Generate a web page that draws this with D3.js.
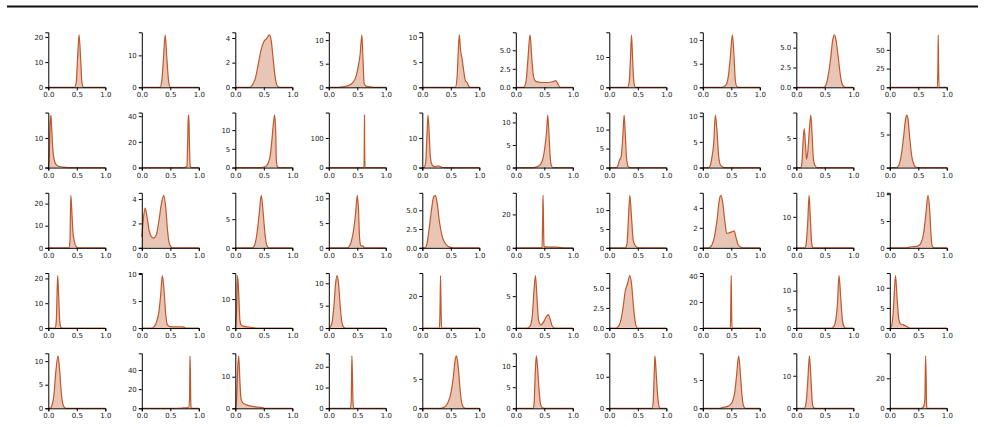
<!DOCTYPE html>
<html>
<head>
<meta charset="utf-8">
<script src="https://cdn.jsdelivr.net/npm/d3@7"></script>
<style>
  body { margin: 0; background: #fff; }
  svg { display: block; font-family: 'DejaVu Sans', sans-serif; }
</style>
</head>
<body>
<div id="viz"></div>
<script>
// x tick labels shared by every panel
const xTickLabels = ['0.0', '0.5', '1.0'];

// density curves, one list of [x, density] per panel (row by row)
const row1 = [
  [[0,0],[0.46,0],[0.49,2],[0.51,10],[0.54,20.8],[0.57,10],[0.59,2],[0.62,0],[1,0]],
  [[0,0],[0.32,0],[0.35,2],[0.38,9],[0.41,16.4],[0.44,9],[0.47,2],[0.5,0],[1,0]],
  [[0,0],[0.25,0],[0.3,0.2],[0.35,0.7],[0.4,1.8],[0.45,3.0],[0.5,3.7],[0.55,3.95],[0.6,4.25],[0.63,3.8],[0.66,2.5],[0.7,0.8],[0.74,0.1],[0.78,0],[1,0]],
  [[0,0],[0.15,0],[0.25,0.1],[0.35,0.4],[0.42,1.0],[0.47,2.0],[0.51,4],[0.55,7],[0.58,11.1],[0.6,6],[0.62,0.8],[0.66,0.2],[0.75,0.05],[0.8,0],[1,0]],
  [[0,0],[0.58,0],[0.61,2],[0.63,7],[0.65,10.4],[0.67,7.5],[0.7,5.5],[0.73,3],[0.76,1.2],[0.79,0.9],[0.82,0.1],[0.85,0],[1,0]],
  [[0,0],[0.14,0],[0.18,0.8],[0.21,3.5],[0.25,7.08],[0.28,4],[0.31,1.5],[0.35,0.8],[0.45,0.65],[0.55,0.65],[0.65,0.75],[0.7,0.9],[0.73,0.6],[0.77,0.05],[0.8,0],[1,0]],
  [[0,0],[0.32,0],[0.35,2],[0.37,9],[0.39,17.3],[0.41,9],[0.43,2],[0.46,0],[1,0]],
  [[0,0],[0.33,0],[0.38,0.2],[0.42,0.8],[0.45,2.5],[0.48,6],[0.52,11.1],[0.55,6],[0.57,1.5],[0.6,0.1],[0.63,0],[1,0]],
  [[0,0],[0.48,0],[0.52,0.3],[0.56,1.5],[0.6,3.5],[0.64,6.0],[0.67,6.6],[0.7,5.8],[0.74,3.5],[0.78,1.2],[0.82,0.2],[0.86,0],[1,0]],
  [[0,0],[0.835,0],[0.845,35],[0.85,70],[0.855,35],[0.865,0],[1,0]]
];
const row2 = [
  [[0,0],[0.015,3],[0.03,14],[0.045,17.7],[0.06,13],[0.08,6],[0.1,3],[0.13,1.2],[0.17,0.5],[0.25,0.15],[0.35,0],[1,0]],
  [[0,0],[0.75,0],[0.79,1],[0.805,20],[0.815,40.8],[0.825,40.8],[0.835,20],[0.85,1],[0.87,0],[1,0]],
  [[0,0],[0.45,0],[0.52,0.2],[0.57,1],[0.61,3],[0.64,7],[0.67,12],[0.69,14],[0.71,9],[0.72,2],[0.74,0.2],[0.77,0],[1,0]],
  [[0,0],[0.618,0],[0.623,90],[0.626,177],[0.629,90],[0.634,0],[1,0]],
  [[0,0],[0.03,0],[0.06,2],[0.08,10],[0.1,17.7],[0.12,12],[0.14,4],[0.17,1],[0.22,0.3],[0.28,0.6],[0.33,0.2],[0.4,0],[1,0]],
  [[0,0],[0.3,0],[0.38,0.2],[0.44,0.8],[0.48,2.2],[0.51,4.5],[0.54,8],[0.56,11.6],[0.58,8],[0.6,3],[0.62,0.6],[0.65,0],[1,0]],
  [[0,0],[0.12,0],[0.15,0.5],[0.18,2],[0.21,3],[0.24,9],[0.26,13.8],[0.28,9],[0.3,3],[0.33,0.3],[0.36,0],[1,0]],
  [[0,0],[0.1,0],[0.13,0.4],[0.16,2],[0.19,4.5],[0.22,10.2],[0.25,7],[0.28,2],[0.31,0.5],[0.36,0.05],[0.4,0],[1,0]],
  [[0,0],[0.08,0],[0.1,1],[0.12,4.5],[0.14,6.6],[0.16,4],[0.18,1.4],[0.2,2.5],[0.23,6.5],[0.255,8.85],[0.28,5],[0.3,1.5],[0.33,0.3],[0.37,0],[1,0]],
  [[0,0],[0.12,0],[0.16,0.4],[0.2,1.8],[0.24,4.5],[0.28,7.5],[0.3,7.93],[0.32,7.3],[0.35,4.5],[0.38,2],[0.42,0.5],[0.46,0.05],[0.5,0],[1,0]]
];
const row3 = [
  [[0,0],[0.36,0],[0.38,3],[0.395,23.7],[0.41,18],[0.43,8],[0.46,2.5],[0.49,0.5],[0.52,0],[1,0]],
  [[0,0.9],[0.03,2.5],[0.06,3.25],[0.09,2.6],[0.13,1.4],[0.17,0.9],[0.21,0.8],[0.25,1.0],[0.3,2.2],[0.35,3.8],[0.385,4.3],[0.42,3.3],[0.45,1.5],[0.48,0.4],[0.52,0.05],[0.55,0],[1,0]],
  [[0,0],[0.3,0],[0.34,0.5],[0.38,2.5],[0.42,6],[0.455,9.15],[0.49,6],[0.52,2.5],[0.55,0.5],[0.59,0],[1,0]],
  [[0,0],[0.33,0],[0.37,0.5],[0.41,2],[0.44,4],[0.47,7],[0.5,10.6],[0.52,8],[0.54,2],[0.56,0.5],[0.6,0.3],[0.63,0],[1,0]],
  [[0,0],[0.05,0],[0.08,0.5],[0.12,2.5],[0.16,5],[0.2,6.8],[0.23,6.97],[0.26,6],[0.3,3.5],[0.35,1.5],[0.4,0.6],[0.45,0.2],[0.5,0.05],[0.55,0],[1,0]],
  [[0,0],[0.46,0],[0.47,15],[0.478,31.4],[0.486,15],[0.495,1],[0.52,0.5],[0.7,0.4],[0.8,0.1],[0.85,0],[1,0]],
  [[0,0],[0.28,0],[0.31,1],[0.33,6],[0.36,13.9],[0.39,8],[0.42,2],[0.46,0.5],[0.5,0.05],[0.53,0],[1,0]],
  [[0,0],[0.1,0],[0.15,0.2],[0.2,1],[0.25,2.8],[0.29,4.8],[0.32,5.25],[0.35,4.5],[0.39,2.5],[0.42,1.45],[0.46,1.5],[0.51,1.6],[0.55,1.7],[0.58,1.1],[0.62,0.3],[0.67,0.05],[0.7,0],[1,0]],
  [[0,0],[0.15,0],[0.17,1],[0.2,8],[0.225,16.9],[0.25,8],[0.27,1.5],[0.29,0.1],[0.31,0],[1,0]],
  [[0,0],[0.3,0],[0.35,0.15],[0.45,0.25],[0.5,0.4],[0.55,1],[0.59,2.5],[0.63,6],[0.67,9.77],[0.7,7],[0.72,3],[0.74,0.5],[0.77,0],[1,0]]
];
const row4 = [
  [[0,0],[0.12,0],[0.14,3],[0.155,15],[0.165,21.1],[0.18,14],[0.2,3],[0.22,0.3],[0.25,0],[1,0]],
  [[0,0],[0.18,0],[0.22,0.3],[0.26,1.2],[0.3,3],[0.33,6],[0.36,9.7],[0.39,7],[0.42,2.5],[0.45,0.6],[0.5,0.25],[0.6,0.2],[0.72,0.2],[0.76,0.05],[0.8,0],[1,0]],
  [[0,0],[0.02,5],[0.04,18.1],[0.06,12],[0.08,3],[0.1,1.2],[0.15,0.6],[0.25,0.3],[0.33,0.1],[0.4,0],[1,0]],
  [[0,0],[0.03,0.3],[0.06,1.5],[0.09,5],[0.12,10],[0.145,11.7],[0.17,10],[0.2,5],[0.23,1.2],[0.26,0.2],[0.3,0],[1,0]],
  [[0,0],[0.3,0],[0.31,10],[0.32,32.7],[0.33,10],[0.34,0],[1,0]],
  [[0,0],[0.2,0],[0.25,0.3],[0.29,2],[0.32,6],[0.345,8.2],[0.37,5],[0.4,1.2],[0.44,0.5],[0.49,1.0],[0.53,1.7],[0.57,2.1],[0.6,1.5],[0.63,0.5],[0.67,0.05],[0.7,0],[1,0]],
  [[0,0],[0.12,0],[0.17,0.3],[0.21,1.2],[0.25,3],[0.28,4.6],[0.32,5.5],[0.36,6.5],[0.39,5.5],[0.42,3],[0.45,1],[0.48,0.1],[0.5,0],[1,0]],
  [[0,0],[0.485,0],[0.492,20],[0.498,40.3],[0.504,20],[0.512,0],[1,0]],
  [[0,0],[0.62,0],[0.66,0.5],[0.69,2],[0.72,6],[0.75,14],[0.78,8],[0.81,2],[0.84,0.3],[0.87,0],[1,0]],
  [[0,0],[0.03,0.5],[0.06,4],[0.1,13],[0.13,7],[0.16,2],[0.19,1],[0.24,0.8],[0.28,0.5],[0.33,0.15],[0.38,0],[1,0]]
];
const row5 = [
  [[0,0],[0.03,0],[0.06,0.5],[0.1,3],[0.13,7.5],[0.17,11.1],[0.2,8],[0.23,3],[0.26,0.7],[0.3,0.05],[0.33,0],[1,0]],
  [[0,0],[0.5,0],[0.7,0.3],[0.82,0.8],[0.838,10],[0.845,54.7],[0.852,40],[0.86,5],[0.868,0],[1,0]],
  [[0,0],[0.02,2],[0.04,12],[0.06,16.6],[0.08,9],[0.1,3],[0.13,1.8],[0.2,1.1],[0.3,0.6],[0.4,0.35],[0.48,0.2],[0.52,0],[1,0]],
  [[0,0],[0.38,0],[0.395,5],[0.405,25.2],[0.415,15],[0.425,3],[0.44,0],[1,0]],
  [[0,0],[0.32,0],[0.4,0.3],[0.45,1],[0.5,2.5],[0.54,5],[0.58,8.4],[0.6,8.9],[0.63,7],[0.66,3.5],[0.69,1],[0.72,0.2],[0.76,0],[1,0]],
  [[0,0],[0.3,0],[0.32,1],[0.34,8],[0.36,12.4],[0.38,10],[0.4,6],[0.42,2.5],[0.44,0.7],[0.47,0.1],[0.5,0],[1,0]],
  [[0,0],[0.75,0],[0.77,2],[0.79,12],[0.8,16.6],[0.82,12],[0.84,6],[0.86,2],[0.88,0.2],[0.9,0],[1,0]],
  [[0,0],[0.3,0],[0.35,0.15],[0.42,0.3],[0.48,0.6],[0.52,1.2],[0.56,2.8],[0.59,5.5],[0.63,9.26],[0.66,6],[0.69,2],[0.72,0.3],[0.75,0],[1,0]],
  [[0,0],[0.14,0],[0.17,1.5],[0.2,8],[0.23,16.1],[0.26,8],[0.28,2],[0.3,0.3],[0.33,0],[1,0]],
  [[0,0],[0.55,0],[0.58,0.5],[0.6,2],[0.615,6],[0.628,34.9],[0.638,20],[0.645,2],[0.655,0],[1,0]]
];

// y tick labels per panel, same order
const yTicks1 = [['0','10','20'],['0','10'],['0','2','4'],['0','5','10'],['0','5','10'],['0.0','2.5','5.0'],['0','10'],['0','5','10'],['0.0','2.5','5.0'],['0','25','50']];
const yTicks2 = [['0','10'],['0','20','40'],['0','5','10'],['0','100'],['0','10'],['0','5','10'],['0','5','10'],['0','5','10'],['0','5'],['0','5']];
const yTicks3 = [['0','10','20'],['0','2','4'],['0','5'],['0','5','10'],['0.0','2.5','5.0'],['0','20'],['0','5','10'],['0','2','4'],['0','10'],['0','5','10']];
const yTicks4 = [['0','10','20'],['0','5','10'],['0','10'],['0','5','10'],['0','20'],['0','5'],['0.0','2.5','5.0'],['0','20','40'],['0','5','10'],['0','5','10']];
const yTicks5 = [['0','5','10'],['0','20','40'],['0','10'],['0','10','20'],['0','5'],['0','5','10'],['0','10'],['0','5'],['0','10'],['0','20']];

const curves = [row1, row2, row3, row4, row5];
const yTickRows = [yTicks1, yTicks2, yTicks3, yTicks4, yTicks5];

const width = 985, height = 427;
const lineColor = '#c0582b';
const panelW = 57, panelH = 55;
const colStep = 93.5, rowStep = 80.25;
const left0 = 48.3, base0 = 87.3;

const svg = d3.select('#viz').append('svg')
  .attr('width', width)
  .attr('height', height);

// rule across the top
svg.append('line')
  .attr('x1', 7).attr('x2', 978)
  .attr('y1', 6.5).attr('y2', 6.5)
  .style('stroke', '#111')
  .style('stroke-width', 2);

curves.forEach((row, r) => {
  row.forEach((pts, c) => {
    const g = svg.append('g')
      .attr('transform', `translate(${left0 + c * colStep},${base0 + r * rowStep - panelH})`);

    const yMax = d3.max(pts, d => d[1]) * 1.05;
    const x = d3.scaleLinear().domain([0, 1]).range([0, panelW]);
    const y = d3.scaleLinear().domain([0, yMax]).range([panelH, 0]);

    const area = d3.area()
      .x(d => x(d[0]))
      .y0(panelH)
      .y1(d => y(d[1]))
      .curve(d3.curveMonotoneX);
    const line = d3.line()
      .x(d => x(d[0]))
      .y(d => y(d[1]))
      .curve(d3.curveMonotoneX);

    g.append('path')
      .attr('d', area(pts))
      .style('fill', lineColor)
      .style('fill-opacity', 0.35);
    g.append('path')
      .attr('d', line(pts))
      .style('fill', 'none')
      .style('stroke', lineColor)
      .style('stroke-width', 1.2);

    // axes (left and bottom only)
    const labels = yTickRows[r][c];
    const yAxis = d3.axisLeft(y)
      .tickValues(labels.map(Number))
      .tickFormat((d, i) => labels[i])
      .tickSizeOuter(0)
      .tickSize(3)
      .tickPadding(2);
    const xAxis = d3.axisBottom(x)
      .tickValues(xTickLabels.map(Number))
      .tickFormat((d, i) => xTickLabels[i])
      .tickSizeOuter(0)
      .tickSize(3)
      .tickPadding(2);

    const ya = g.append('g').call(yAxis);
    const xa = g.append('g').attr('transform', `translate(0,${panelH})`).call(xAxis);
    [ya, xa].forEach(a => {
      a.selectAll('path, line').style('stroke', '#000').style('stroke-width', 1);
      a.selectAll('text').style('font-size', '7px').style('fill', '#222')
        .style('font-family', "'DejaVu Sans', sans-serif");
    });
  });
});
</script>
</body>
</html>
